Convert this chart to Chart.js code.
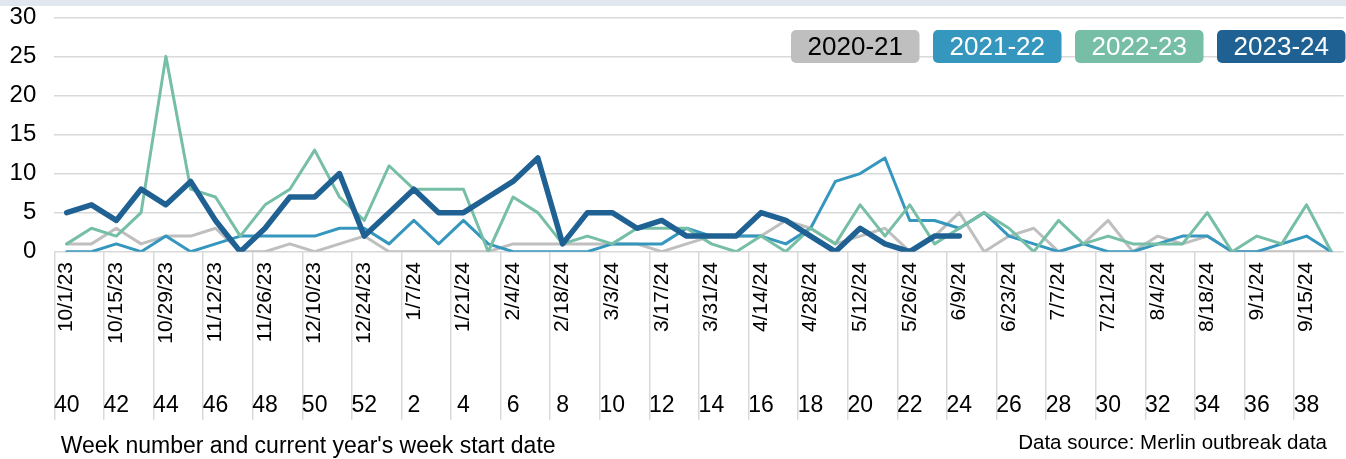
<!DOCTYPE html>
<html>
<head>
<meta charset="utf-8">
<script src="https://cdn.jsdelivr.net/npm/chart.js@4.4.1/dist/chart.umd.min.js"></script>
<style>
	html, body { margin: 0; padding: 0; background: #fff; }
	#wrap { position: relative; width: 1346px; height: 459px; }
	#band { position: absolute; left: 0; top: 0; width: 1346px; height: 6px; background: #e0e7ef; }
</style>
</head>
<body>
<div id="wrap">
	<canvas id="grafica"></canvas>
	<div id="band"></div>
</div>
<script>
// week start dates (current season) and week numbers
var fechas = ['10/1/23', '10/8/23', '10/15/23', '10/22/23', '10/29/23', '11/5/23', '11/12/23', '11/19/23', '11/26/23', '12/3/23',
	'12/10/23', '12/17/23', '12/24/23', '12/31/23', '1/7/24', '1/14/24', '1/21/24', '1/28/24', '2/4/24', '2/11/24',
	'2/18/24', '2/25/24', '3/3/24', '3/10/24', '3/17/24', '3/24/24', '3/31/24', '4/7/24', '4/14/24', '4/21/24',
	'4/28/24', '5/5/24', '5/12/24', '5/19/24', '5/26/24', '6/2/24', '6/9/24', '6/16/24', '6/23/24', '6/30/24',
	'7/7/24', '7/14/24', '7/21/24', '7/28/24', '8/4/24', '8/11/24', '8/18/24', '8/25/24', '9/1/24', '9/8/24',
	'9/15/24', '9/22/24'];

var semanas = ['40', '41', '42', '43', '44', '45', '46', '47', '48', '49', '50', '51', '52',
	'1', '2', '3', '4', '5', '6', '7', '8', '9', '10', '11', '12', '13', '14', '15', '16', '17', '18', '19',
	'20', '21', '22', '23', '24', '25', '26', '27', '28', '29', '30', '31', '32', '33', '34', '35', '36', '37', '38', '39'];

var temporada_2020 = [1, 1, 3, 1, 2, 2, 3, 0, 0, 1, 0, 1, 2, 0, 0, 0, 0, 0, 1, 1, 1, 1, 1, 1, 0, 1,
	2, 2, 2, 4, 3, 1, 2, 3, 0, 2, 5, 0, 2, 3, 0, 1, 4, 0, 2, 1, 2, 0, 0, 0, 0, 0];
var temporada_2021 = [0, 0, 1, 0, 2, 0, 1, 2, 2, 2, 2, 3, 3, 1, 4, 1, 4, 1, 0, 0, 0, 0, 1, 1, 1, 3,
	2, 2, 2, 1, 3, 9, 10, 12, 4, 4, 3, 5, 2, 1, 0, 1, 0, 0, 1, 2, 2, 0, 0, 1, 2, 0];
var temporada_2022 = [1, 3, 2, 5, 25, 8, 7, 2, 6, 8, 13, 7, 4, 11, 8, 8, 8, 0, 7, 5, 1, 2, 1, 3, 3, 3,
	1, 0, 2, 0, 3, 1, 6, 2, 6, 1, 3, 5, 3, 0, 4, 1, 2, 1, 1, 1, 5, 0, 2, 1, 6, 0];
var temporada_2023 = [5, 6, 4, 8, 6, 9, 4, 0, 3, 7, 7, 10, 2, 5, 8, 5, 5, 7, 9, 12, 1, 5, 5, 3, 4, 2,
	2, 2, 5, 4, 2, 0, 3, 1, 0, 2, 2, null, null, null, null, null, null, null, null, null, null, null, null, null, null];

var ticks_y = [0, 5, 10, 15, 20, 25, 30];

var fuente = "'Liberation Sans', Arial, sans-serif";

// boxed legend in the top right corner + data source note
var cajas_leyenda = {
	id: 'cajas_leyenda',
	afterDraw: function(chart) {
		var ctx = chart.ctx;
		var sets = chart.data.datasets;
		var ancho = 128.5, alto = 33, sep = 13.5;
		var x = chart.width - 0.5 - sets.length * ancho - (sets.length - 1) * sep;
		ctx.save();
		ctx.font = '26px ' + fuente;
		ctx.textAlign = 'center';
		ctx.textBaseline = 'middle';
		sets.forEach(function(ds) {
			ctx.fillStyle = ds.borderColor;
			ctx.beginPath();
			ctx.roundRect(x, 30, ancho, alto, 5);
			ctx.fill();
			ctx.fillStyle = ds.legendText;
			ctx.fillText(ds.label, x + ancho / 2, 30 + alto / 2 + 1);
			x += ancho + sep;
		});

		ctx.font = '20.5px ' + fuente;
		ctx.textAlign = 'right';
		ctx.textBaseline = 'alphabetic';
		ctx.fillStyle = '#000';
		ctx.fillText('Data source: Merlin outbreak data', 1327, 449);
		ctx.restore();
	}
};

function serie(label, data, color, grosor, orden, texto) {
	return {
		label: label,
		data: data,
		borderColor: color,
		backgroundColor: color,
		borderWidth: grosor,
		pointRadius: 0,
		pointHoverRadius: 0,
		tension: 0,
		borderJoinStyle: 'round',
		borderCapStyle: 'round',
		fill: false,
		order: orden,
		legendText: texto,
		xAxisID: 'x'
	};
}

var canvas_grafica = document.getElementById('grafica').getContext('2d');

window.grafica = new Chart(canvas_grafica, {
	type: 'line',
	data: {
		labels: fechas,
		datasets: [
			serie('2020-21', temporada_2020, '#bfbfbf', 3, 4, '#000'),
			serie('2021-22', temporada_2021, '#3596be', 3, 3, '#fff'),
			serie('2022-23', temporada_2022, '#76bfa6', 3, 2, '#fff'),
			serie('2023-24', temporada_2023, '#1f6193', 5.5, 1, '#fff')
		]
	},
	plugins: [cajas_leyenda],
	options: {
		responsive: true,
		maintainAspectRatio: false,
		animation: false,
		events: [],
		layout: { autoPadding: false, padding: { top: 17.3, right: 2.3, bottom: 0, left: 0 } },
		plugins: {
			legend: { display: false },
			tooltip: { enabled: false }
		},
		scales: {
			y: {
				min: 0,
				max: 30,
				afterFit: function(scale) {
					scale.width = 54.3;
					scale.paddingTop = 0;
					scale.paddingBottom = 0;
				},
				afterBuildTicks: function(scale) {
					scale.ticks = ticks_y.map(function(v) { return { value: v }; });
				},
				border: { display: false },
				grid: { color: '#d9d9d9', lineWidth: 1.5, drawTicks: false },
				ticks: { padding: 18, color: '#000', font: { family: fuente, size: 24 } }
			},
			x: {
				type: 'category',
				position: 'bottom',
				weight: 0,
				offset: true,
				afterFit: function(scale) { scale.height = 130; },
				border: { display: false },
				grid: {
					offset: true,
					drawOnChartArea: false,
					tickLength: 168,
					lineWidth: 1.5,
					color: function(c) { return c.index % 2 === 0 ? '#d9d9d9' : 'rgba(0,0,0,0)'; }
				},
				ticks: {
					autoSkip: false,
					minRotation: 90,
					maxRotation: 90,
					padding: -157.7,
					color: '#000',
					font: { family: fuente, size: 21 },
					callback: function(v, i) { return i % 2 === 0 ? this.getLabelForValue(v) : ''; }
				}
			},
			x2: {
				type: 'category',
				position: 'bottom',
				weight: 1,
				offset: true,
				labels: semanas,
				afterFit: function(scale) { scale.height = 77.3; },
				border: { display: false },
				grid: { display: false, drawTicks: false },
				ticks: {
					autoSkip: false,
					maxRotation: 0,
					minRotation: 0,
					padding: 10.5,
					color: '#000',
					font: { family: fuente, size: 23 },
					callback: function(v, i) { return i % 2 === 0 ? this.getLabelForValue(v) : ''; }
				},
				title: {
					display: true,
					text: " Week number and current year's week start date",
					align: 'start',
					color: '#000',
					font: { family: fuente, size: 23 },
					padding: { top: 0, bottom: -1 }
				}
			}
		}
	}
});
</script>
</body>
</html>
